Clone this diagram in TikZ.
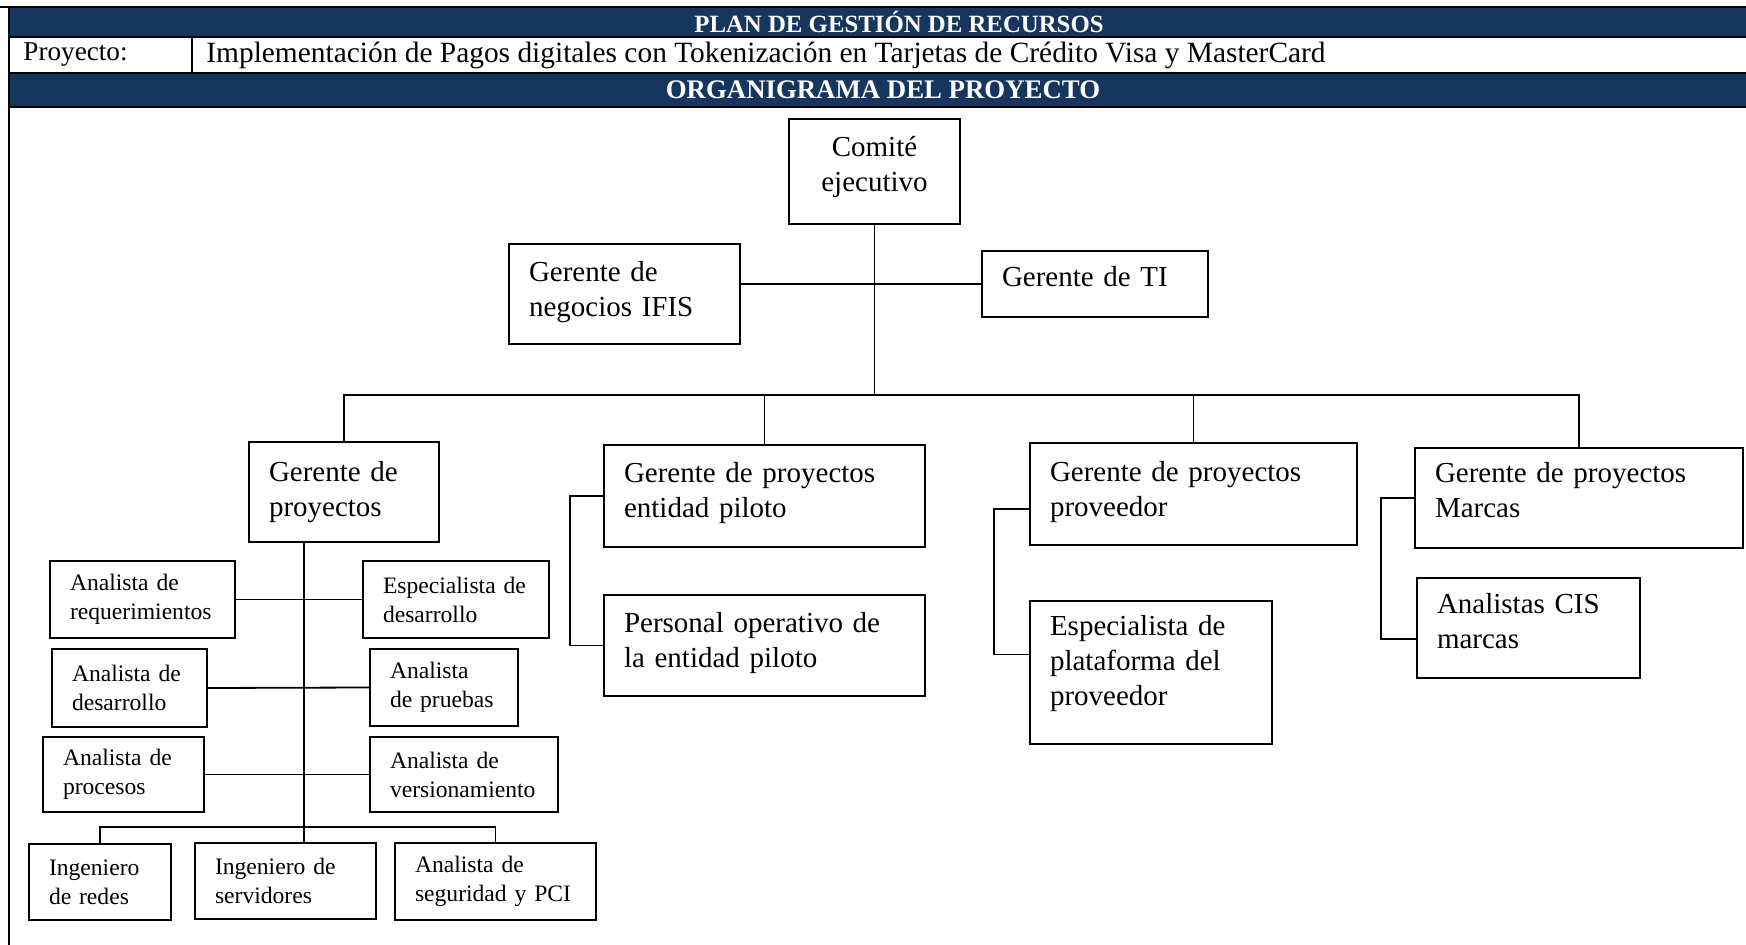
\documentclass[tikz,border=0pt]{standalone}
\usepackage{fontspec}
\setmainfont{Liberation Serif}
\definecolor{bandnavy}{RGB}{23,54,93}
\newcommand\headfont{\fontsize{12.4}{14}\selectfont\bfseries}
\newcommand\rowfont{\fontsize{13.6}{15}\selectfont}
\newcommand\bigfont{\fontsize{14.5}{17.5}\selectfont}
\newcommand\smallfont{\fontsize{11.8}{14.5}\selectfont}
\begin{document}
\begin{tikzpicture}[x=0.5pt, y=-0.5pt,
    bigbox/.style={draw, rectangle, line width=0.7pt, inner xsep=10pt, inner ysep=2pt, align=left, font=\bigfont},
    smallbox/.style={bigbox, font=\smallfont},
    link/.style={line width=0.9pt}]
    \useasboundingbox (0,0) rectangle (1746,945);

    % Encabezado
    \fill[bandnavy] (9,7) rectangle (1746,37);
    \fill[bandnavy] (9,73) rectangle (1746,107);
    \draw[line width=1.2pt] (0,7) -- (1746,7);
    \draw[line width=1.2pt] (9,37) -- (1746,37);
    \draw[line width=1.2pt] (9,73) -- (1746,73);
    \draw[line width=1.2pt] (9,107) -- (1746,107);
    \draw[line width=1.2pt] (192,37) -- (192,73);
    \draw[line width=1.2pt] (9,7) -- (9,945);
    \node[font=\headfont, text=white] (plan) at (899,22) {PLAN DE GESTIÓN DE RECURSOS};
    \node[font=\rowfont, anchor=west, inner sep=0pt] (proy) at (23,55) {Proyecto:};
    \node[font=\rowfont\fontsize{14.7}{16}\selectfont, anchor=west, inner sep=0pt] (nombre) at (206,55) {Implementación de Pagos digitales con Tokenización en Tarjetas de Crédito Visa y MasterCard};
    \node[font=\headfont\fontsize{13.4}{15}\selectfont, text=white] (organi) at (883,89.5) {ORGANIGRAMA DEL PROYECTO};

    % Comite y gerentes
    \node[bigbox, align=center, text width=65.5pt, minimum height=52.5pt, text depth=25pt] (comite) at (874.5,171.5) {Comité\\ejecutivo};
    \node[bigbox, text width=95.5pt, minimum height=50pt, text depth=22.7pt] (ifis) at (624.5,294) {Gerente de\\negocios IFIS};
    \node[bigbox, text width=93pt, minimum height=33pt, text depth=8pt] (ti) at (1095,284) {Gerente de TI};

    % Gerentes de proyectos
    \node[bigbox, text width=75pt, minimum height=50pt] (gp) at (344,492) {Gerente de\\proyectos};
    \node[bigbox, text width=140.5pt, minimum height=51pt, text depth=23.5pt] (gpe) at (764.5,496) {Gerente de proyectos\\entidad piloto};
    \node[bigbox, text width=140.5pt, minimum height=50.5pt, text depth=23.5pt] (poe) at (764.5,645.5) {Personal operativo de\\la entidad piloto};
    \node[bigbox, text width=143.5pt, minimum height=51pt, text depth=23pt] (gpp) at (1193.5,494) {Gerente de proyectos\\proveedor};
    \node[bigbox, text width=101pt, minimum height=71.5pt, text depth=47pt] (epp) at (1151,672.5) {Especialista de\\plataforma del\\proveedor};
    \node[bigbox, text width=144pt, minimum height=50pt, text depth=25.7pt] (gpm) at (1579,498) {Gerente de proyectos\\Marcas};
    \node[bigbox, text width=91.5pt, minimum height=50pt, text depth=24.7pt] (cis) at (1528.5,628) {Analistas CIS\\marcas};

    % Equipo del gerente de proyectos
    \node[smallbox, text width=72.5pt, minimum height=38.5pt] (areq) at (142.5,599.5) {Analista de\\requerimientos};
    \node[smallbox, text width=73pt, minimum height=38.5pt] (edes) at (456,599.5) {Especialista de\\desarrollo};
    \node[smallbox, text width=57.5pt, minimum height=39pt] (ades) at (129.5,688) {Analista de\\desarrollo};
    \node[smallbox, text width=54pt, minimum height=38.5pt] (apru) at (444,687.5) {Analista\\de pruebas};
    \node[smallbox, text width=60.5pt, minimum height=37.5pt] (apro) at (123.5,774.5) {Analista de\\procesos};
    \node[smallbox, text width=74pt, minimum height=37.5pt] (aver) at (464,774.5) {Analista de\\versionamiento};
    \node[smallbox, text width=51pt, minimum height=38pt] (ired) at (100,882) {Ingeniero\\de redes};
    \node[smallbox, text width=70.5pt, minimum height=38pt] (iser) at (285.5,881) {Ingeniero de\\servidores};
    \node[smallbox, text width=80.5pt, minimum height=38.5pt] (aseg) at (495.5,881.5) {Analista de\\seguridad y PCI};

    % Conexiones
    \coordinate (bus) at (0,395);
    \coordinate (bot) at (0,827);
    \draw[link] (comite.south) -- (comite.south |- bus);
    \draw[link] (ifis.east |- ti.west) -- (ti.west);
    \draw[link] (gp.north) -- (gp.north |- bus) -- (gpm.north |- bus) -- (gpm.north);
    \foreach \n in {gpe, gpp}
        \draw[link] (\n.north) -- (\n.north |- bus);
    \draw[link] ([xshift=-20pt]gp.south) -- ([xshift=-20pt]gp.south |- iser.north);
    \draw[link] (areq.east) -- (edes.west);
    \draw[link] (ades.east) -- (apru.west);
    \draw[link] (apro.east) -- (aver.west);
    \draw[link] (ired.north) -- (ired.north |- bot) -- (aseg.north |- bot) -- (aseg.north);
    \draw[link] (gpe.west) -- ++(-33,0) |- (poe.west);
    \draw[link] ([yshift=-7.5pt]gpp.west) -- ++(-35,0) |- ([yshift=9pt]epp.west);
    \draw[link] (gpm.west) -- ++(-33,0) |- ([yshift=-5.5pt]cis.west);
\end{tikzpicture}
\end{document}
